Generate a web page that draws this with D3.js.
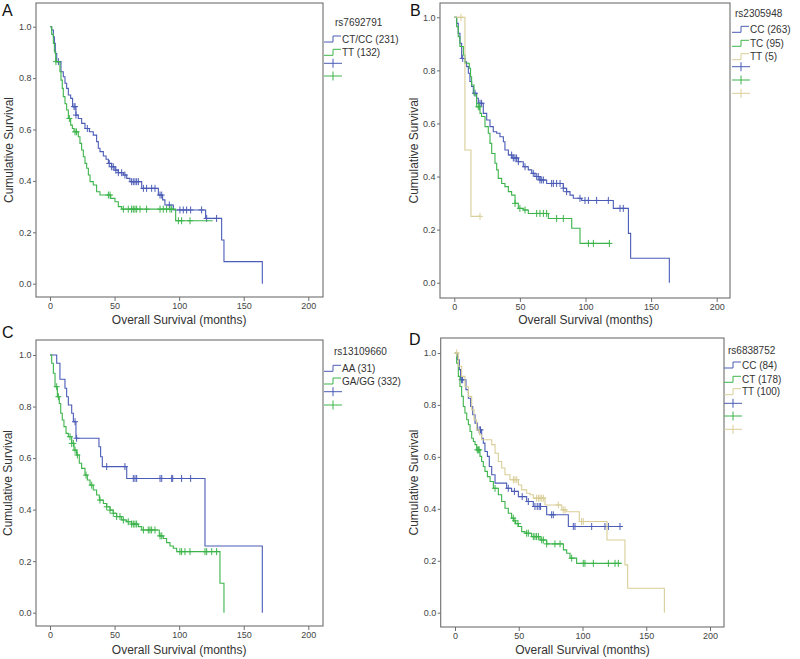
<!DOCTYPE html>
<html><head><meta charset="utf-8">
<script src="https://cdn.jsdelivr.net/npm/d3@7"></script>
<style>body{margin:0;background:#fff}svg{display:block}text{font-family:"Liberation Sans",Arial,sans-serif}</style>
</head><body>
<svg id="c" width="800" height="659"></svg>
<script>
// ---------------- DATA (months, cumulative survival) ----------------
const xTicks = [0, 50, 100, 150, 200];
const yTicks = [0, 0.2, 0.4, 0.6, 0.8, 1.0];

// Panel A : rs7692791
const A_CTCC_steps = [[1.3,0.987],[2.6,0.961],[3.4,0.935],[4.1,0.896],[5.2,0.864],[8.5,0.825],[10.3,0.805],[11.6,0.78],[12.9,0.76],[14.2,0.734],[16,0.721],[17.5,0.689],[20.1,0.656],[21.9,0.643],[24.5,0.624],[27.1,0.604],[30.5,0.591],[33.5,0.578],[36.1,0.553],[37.4,0.527],[38.7,0.514],[41.3,0.497],[43.4,0.484],[45.2,0.468],[47.7,0.455],[50.3,0.442],[52.9,0.432],[56.8,0.423],[59.4,0.41],[61.9,0.397],[71,0.371],[83.9,0.345],[87.2,0.326],[89,0.306],[95.5,0.287],[120.5,0.254],[132.9,0.17],[134.7,0.086],[164.4,0]];
const A_CTCC_censor = [6.5,18.6,19.4,20.1,28.9,45.9,47.7,49,51,52.9,55.5,58,63.2,64.5,65.8,67.1,68.4,72.3,74.8,78.7,81.3,85.2,86.5,92.4,100.6,103.2,105.8,108.9,117.4,121.3,129];
const A_CTCC_end = 164.4;
const A_TT_steps = [[1.3,0.97],[2.6,0.935],[3.4,0.903],[4.4,0.864],[7.7,0.825],[8.5,0.792],[9.5,0.76],[10.3,0.728],[11.6,0.7],[12.9,0.676],[14.2,0.643],[16,0.617],[17.3,0.604],[18.6,0.591],[21.9,0.572],[23.2,0.546],[24.5,0.52],[25.8,0.494],[27.1,0.468],[28.4,0.449],[29.7,0.423],[31,0.397],[33.5,0.384],[36.1,0.358],[38.7,0.345],[47,0.332],[50.3,0.319],[52.9,0.3],[55.5,0.29],[97.3,0.245]];
const A_TT_censor = [4.6,15,19.4,20.6,45.2,46.5,56.8,60.6,63.2,64.5,65.8,67.1,69.7,74.8,85.2,87.7,90.3,92.9,94.2,99.4,101.9,108.4];
const A_TT_end = 126;

// Panel B : rs2305948
const B_CC_steps = [[1.8,0.977],[3,0.94],[4.3,0.902],[5.6,0.845],[8.1,0.832],[9.4,0.814],[10.7,0.789],[11.9,0.758],[13.2,0.739],[14.5,0.714],[17,0.695],[18.3,0.676],[22.1,0.638],[24.7,0.613],[27.2,0.588],[29.7,0.569],[32.3,0.563],[34.8,0.55],[37.4,0.531],[38.6,0.5],[41.2,0.481],[44,0.47],[48.8,0.456],[52.6,0.437],[56.4,0.425],[59,0.412],[61.5,0.4],[65.3,0.387],[70.4,0.374],[83.1,0.356],[85.6,0.343],[88.2,0.33],[90.7,0.318],[97.1,0.31],[121.2,0.28],[132.7,0.186],[134.4,0.092],[163.9,0]];
const B_CC_censor = [6.4,15.8,19.6,20.8,43.7,45,46.3,47.5,48.8,53.9,60.2,62.8,64,65.3,66.6,67.9,74.2,75.5,78,80.6,83.1,85.6,95.8,99.6,102.2,108.5,117.4,126.3,128.8];
const B_CC_end = 163.9;
const B_TC_steps = [[1.8,0.965],[3,0.927],[4.3,0.89],[6.9,0.858],[8.1,0.827],[11.4,0.808],[12.4,0.776],[13.2,0.745],[15,0.707],[17,0.663],[19.6,0.638],[20.8,0.626],[23.4,0.588],[25.9,0.563],[27.2,0.525],[28.5,0.487],[31,0.45],[32.3,0.425],[33.5,0.393],[36.1,0.374],[38.6,0.362],[41.2,0.343],[43.7,0.33],[46.3,0.299],[48.8,0.28],[52.6,0.274],[56.4,0.261],[71.7,0.242],[89.5,0.205],[95.8,0.148]];
const B_TC_censor = [18.3,19.1,46.3,50,53.9,62.8,65.3,67.9,70.4,78,83.1,102.2,106,118.2];
const B_TC_end = 118.7;
const B_TT_steps = [[8.1,0.5],[12.7,0.25]];
const B_TT_censor = [5.1,19.6];
const B_TT_end = 19.6;

// Panel C : rs13109660
const C_AA_steps = [[5.2,0.968],[7.7,0.906],[11.6,0.871],[12.9,0.838],[14.2,0.806],[16.8,0.774],[18.1,0.741],[20.1,0.677],[37.9,0.644],[39.2,0.605],[40.5,0.567],[59.4,0.521],[120,0.259],[164.4,0]];
const C_AA_censor = [19.4,20.6,43.9,58,64.5,65.8,67.1,85.2,86.5,94.2,95,101.9,108.9];
const C_AA_end = 164.4;
const C_GAGG_steps = [[1.3,0.968],[2.6,0.929],[3.9,0.877],[5.7,0.838],[7.2,0.812],[8.3,0.774],[9.5,0.748],[10.8,0.722],[12.4,0.696],[14.2,0.683],[16.8,0.657],[18.6,0.631],[20.6,0.612],[22.7,0.58],[24.5,0.56],[27.1,0.534],[28.9,0.515],[31,0.495],[33.5,0.476],[36.1,0.457],[38.2,0.437],[41.3,0.424],[43.9,0.411],[46.5,0.398],[49,0.386],[51.6,0.373],[55.5,0.36],[59.4,0.353],[63.2,0.344],[68.4,0.334],[71,0.321],[84.6,0.298],[87.7,0.288],[90.3,0.272],[92.9,0.259],[95.5,0.25],[98.1,0.237],[131.6,0.114],[134.7,0]];
const C_GAGG_censor = [5.2,6.5,15.5,16.8,18.1,19.4,21.2,27.9,32.3,38.7,43.9,46.5,49,51.6,54.2,56.8,60.6,63.2,64.5,65.8,67.1,72.3,76.1,77.4,78.7,81.3,85.2,86.5,100.6,101.9,104.5,108.4,120,121.3,125.2,129];
const C_GAGG_end = 134.7;

// Panel D : rs6838752
const D_CC_steps = [[1.8,0.974],[3.4,0.936],[4.4,0.897],[8.6,0.859],[10.5,0.826],[12.3,0.794],[13.9,0.762],[15.7,0.73],[17.5,0.704],[20.9,0.672],[22.2,0.653],[23.5,0.621],[25.4,0.602],[26.9,0.563],[28.8,0.531],[31.4,0.499],[40.5,0.479],[44.4,0.467],[49.7,0.447],[56.2,0.428],[61.4,0.409],[71.9,0.377],[88.9,0.332]];
const D_CC_censor = [5.2,6,19,20,41.8,46.6,52.7,57.5,62.7,64.5,66,67.1,75.8,77.1,92.8,94.1,107.2,117.6,120.3,129.4];
const D_CC_end = 130.7;
const D_CT_steps = [[1.3,0.961],[2.6,0.91],[3.9,0.871],[5.2,0.833],[6.5,0.794],[7.8,0.769],[9.2,0.743],[10.5,0.724],[11.8,0.698],[13.1,0.672],[14.4,0.659],[15.7,0.647],[17,0.627],[19.6,0.602],[20.9,0.582],[22.2,0.563],[23.5,0.544],[25.4,0.524],[27.5,0.505],[30.1,0.479],[34,0.454],[36.6,0.428],[39.2,0.402],[41.8,0.383],[44.4,0.364],[46,0.354],[47.5,0.343],[49.7,0.332],[52.3,0.312],[54.9,0.306],[60.1,0.293],[66.7,0.28],[71.9,0.265],[85,0.242],[87.6,0.229],[90.2,0.21],[95.4,0.19]];
const D_CT_censor = [17.5,18.3,19,31.4,45.7,47,49.4,56.2,57.5,61.4,62.7,64,65.4,68,69.3,71.9,78.4,82.4,91.5,100.6,101.9,108.5,120.3,125.5,128.1];
const D_CT_end = 130.7;
const D_TT_steps = [[2.6,0.949],[5.2,0.91],[7.8,0.87],[10.5,0.833],[13.1,0.781],[14.9,0.743],[17,0.704],[19.1,0.685],[20.9,0.666],[28.8,0.647],[31.4,0.614],[34,0.582],[36.6,0.557],[39.2,0.531],[43.1,0.512],[49.7,0.492],[52.3,0.473],[56.2,0.46],[58.8,0.454],[61.4,0.441],[70.6,0.415],[83.7,0.396],[87,0.389],[97.5,0.351],[119.2,0.28],[133.3,0.184],[135.4,0.094],[164.2,0]];
const D_TT_censor = [1.3,45.8,47,48.4,64,65.4,66.7,68,69.3,81,84.9,86.3,99.3,100.6];
const D_TT_end = 164.2;

const legendTitles = ["rs7692791", "rs2305948", "rs13109660", "rs6838752"];
const legendLabels = [["CT/CC (231)", "TT (132)"], ["CC (263)", "TC (95)", "TT (5)"], ["AA (31)", "GA/GG (332)"], ["CC (84)", "CT (178)", "TT (100)"]];
const panelLetters = ["A", "B", "C", "D"];

// ---------------- STYLE / LAYOUT ----------------
const COL = ["#4b5cb6", "#3cb44b", "#d9ce98"];
const FRAME = "#6e6e6e";

const panels = [
  { frame:[36,3,323,297], xr:[50,308.3], yr:[283.7,26.7], letter:[2,16], ytitleX:13, xtitleY:324,
    leg:{x:323, tx:335, ty:22.7, items:[39,52.3], plus:[63.3,76]},
    series:[[A_CTCC_steps,A_CTCC_censor,A_CTCC_end],[A_TT_steps,A_TT_censor,A_TT_end]] },
  { frame:[440,3,730,298], xr:[454.3,716.7], yr:[282.7,17.3], letter:[410,16], ytitleX:418, xtitleY:324,
    leg:{x:731, tx:735, ty:13.3, items:[29.3,43.3,56.7], plus:[66.7,80,93.3]},
    series:[[B_CC_steps,B_CC_censor,B_CC_end],[B_TC_steps,B_TC_censor,B_TC_end],[B_TT_steps,B_TT_censor,B_TT_end]] },
  { frame:[36,340,323,626], xr:[50,308.3], yr:[612.7,355], letter:[2,338], ytitleX:12, xtitleY:653.5,
    leg:{x:323, tx:334, ty:351.7, items:[368.3,381], plus:[391.7,405]},
    series:[[C_AA_steps,C_AA_censor,C_AA_end],[C_GAGG_steps,C_GAGG_censor,C_GAGG_end]] },
  { frame:[440.7,338,724,627], xr:[455,710], yr:[612.7,353], letter:[409,345], ytitleX:418, xtitleY:653.5,
    leg:{x:723, tx:728, ty:350, items:[365,379.3,391.7], plus:[403.3,416,429.3]},
    series:[[D_CC_steps,D_CC_censor,D_CC_end],[D_CT_steps,D_CT_censor,D_CT_end],[D_TT_steps,D_TT_censor,D_TT_end]] }
];

const svg = d3.select("#c");

function survAt(steps, t) {
  let s = 1;
  for (const [st, sv] of steps) { if (st <= t) s = sv; else break; }
  return s;
}

panels.forEach((p, pi) => {
  const g = svg.append("g");
  const x = d3.scaleLinear().domain([0, 200]).range(p.xr);
  const y = d3.scaleLinear().domain([0, 1]).range(p.yr);
  const [fx0, fy0, fx1, fy1] = p.frame;

  // axes (ticks outside the frame)
  const ya = g.append("g").attr("transform", `translate(${fx0},0)`)
    .call(d3.axisLeft(y).tickValues(yTicks).tickFormat(d3.format(".1f")).tickSize(3).tickPadding(1.5));
  const xa = g.append("g").attr("transform", `translate(0,${fy1})`)
    .call(d3.axisBottom(x).tickValues(xTicks).tickFormat(d3.format("d")).tickSize(4).tickPadding(2));
  [ya, xa].forEach(a => {
    a.select(".domain").remove();
    a.selectAll("line").attr("stroke", FRAME).attr("stroke-width", 1);
    a.selectAll("text").attr("font-size", 9).attr("fill", "#444")
      .attr("font-family", "'Liberation Sans', Arial, sans-serif");
  });

  // frame
  g.append("rect").attr("x", fx0).attr("y", fy0).attr("width", fx1 - fx0).attr("height", fy1 - fy0)
    .attr("fill", "none").attr("stroke", FRAME).attr("stroke-width", 1.1);

  // curves
  const line = d3.line().x(d => x(d[0])).y(d => y(d[1])).curve(d3.curveStepAfter);
  p.series.forEach(([steps, cens, end], si) => {
    const pts = [[0, 1], ...steps];
    const last = pts[pts.length - 1];
    if (end > last[0]) pts.push([end, last[1]]);
    g.append("path").attr("d", line(pts)).attr("fill", "none")
      .attr("stroke", COL[si]).attr("stroke-width", 1.1);
    const cg = g.append("g").attr("stroke", COL[si]).attr("stroke-width", 1);
    cens.forEach(t => {
      const cx = x(t), cy = y(survAt(steps, t));
      cg.append("line").attr("x1", cx - 3).attr("x2", cx + 3).attr("y1", cy).attr("y2", cy);
      cg.append("line").attr("x1", cx).attr("x2", cx).attr("y1", cy - 3.5).attr("y2", cy + 3.5);
    });
  });

  // titles
  g.append("text").attr("x", (p.xr[0] + p.xr[1]) / 2).attr("y", p.xtitleY).attr("text-anchor", "middle")
    .attr("font-size", 12).attr("fill", "#333").text("Overall Survival (months)");
  g.append("text").attr("transform", `translate(${p.ytitleX},${(fy0 + fy1) / 2}) rotate(-90)`)
    .attr("text-anchor", "middle").attr("font-size", 12).attr("fill", "#333").text("Cumulative Survival");
  g.append("text").attr("x", p.letter[0]).attr("y", p.letter[1]).attr("font-size", 16).attr("fill", "#111")
    .text(panelLetters[pi]);

  // legend
  const L = p.leg;
  g.append("text").attr("x", L.tx).attr("y", L.ty + 3.5).attr("font-size", 10).attr("fill", "#333")
    .text(legendTitles[pi]);
  legendLabels[pi].forEach((lab, i) => {
    const cy = L.items[i];
    g.append("path").attr("d", `M${L.x + 1},${cy + 3}H${L.x + 10}V${cy - 3}H${L.x + 18}`)
      .attr("fill", "none").attr("stroke", COL[i]).attr("stroke-width", 1);
    g.append("text").attr("x", L.x + 19).attr("y", cy + 3.6).attr("font-size", 10).attr("fill", "#333").text(lab);
  });
  L.plus.forEach((cy, i) => {
    g.append("path").attr("d", `M${L.x + 1},${cy}H${L.x + 19}M${L.x + 10},${cy - 4.5}V${cy + 4.5}`)
      .attr("fill", "none").attr("stroke", COL[i]).attr("stroke-width", 1);
  });
});
</script>
</body></html>
